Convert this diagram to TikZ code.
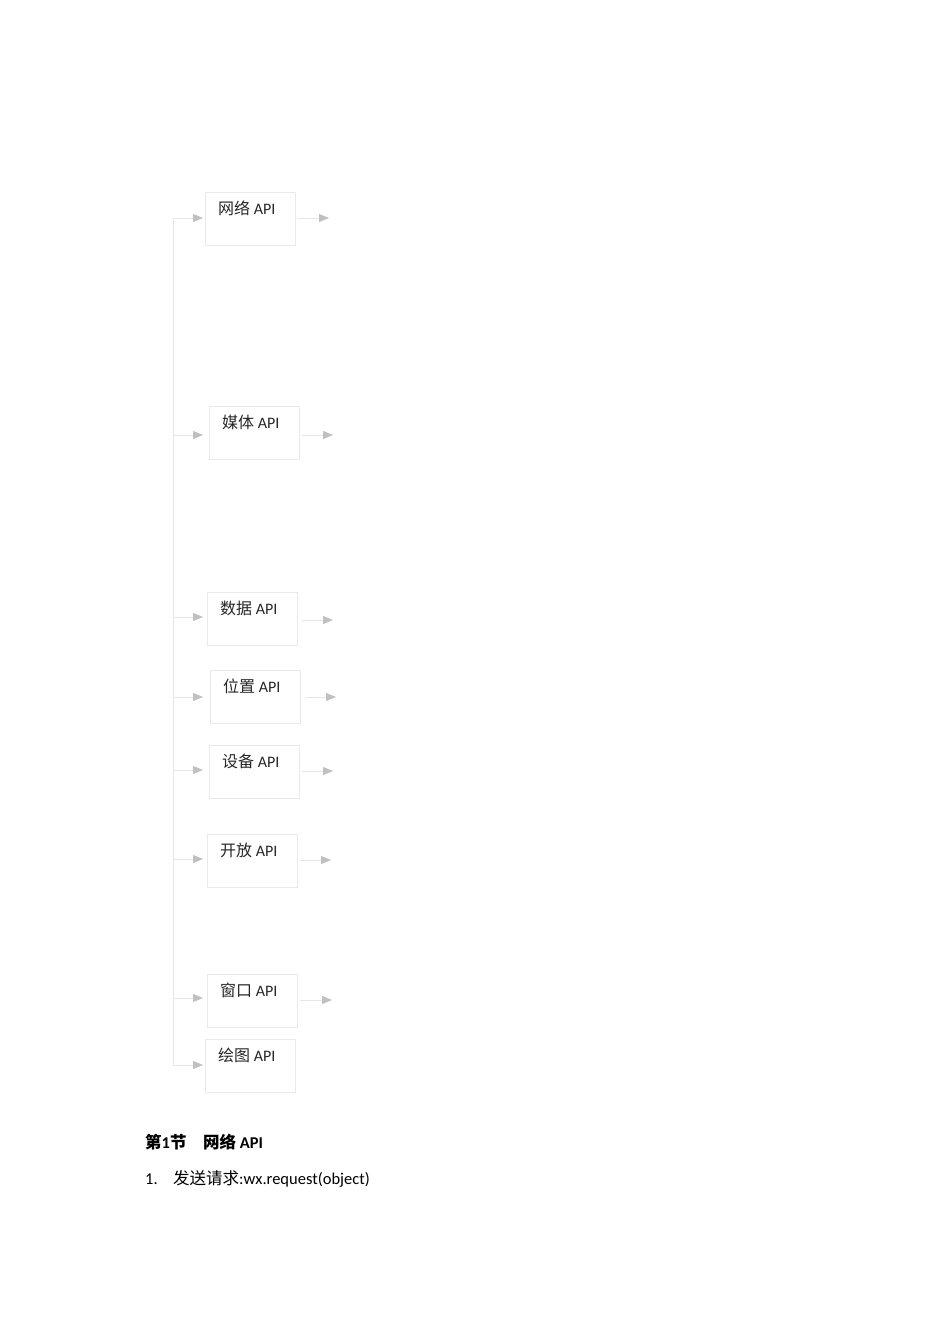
\documentclass[tikz,border=0pt]{standalone}
\usepackage{fontspec}
\setmainfont{Carlito}
\newfontfamily\cjk{Noto Sans CJK SC}
\usetikzlibrary{arrows.meta}
\definecolor{boxline}{HTML}{EAEAEA}
\definecolor{conn}{HTML}{E6E6E6}
\definecolor{tipgray}{HTML}{C0C0C0}
\begin{document}
\begin{tikzpicture}[x=1pt,y=-1pt,
  apibox/.style={draw=boxline, line width=0.8pt, minimum width=90pt, minimum height=53pt, inner sep=0pt, anchor=north west},
  lbl/.style={font=\fontsize{16}{18}\selectfont, text=black!85, inner sep=0pt, anchor=base west},
  link/.style={draw=conn, line width=0.8pt, -{Triangle[length=10pt,width=8pt,fill=tipgray,color=tipgray]}},
  trunk/.style={draw=conn, line width=0.8pt},
  body/.style={anchor=base west, inner sep=0pt, font=\fontsize{16.5}{20}\selectfont}
]
\useasboundingbox (0,0) rectangle (950,1344);
% boxes
\node[apibox] (b1) at (205,192) {};
\node[apibox] (b2) at (209,406) {};
\node[apibox] (b3) at (207,592) {};
\node[apibox] (b4) at (210,670) {};
\node[apibox] (b5) at (209,745) {};
\node[apibox] (b6) at (207,834) {};
\node[apibox] (b7) at (207,974) {};
\node[apibox] (b8) at (205,1039) {};
% labels
\node[lbl] (t1) at (218,214) {{\cjk 网络} API};
\node[lbl] (t2) at (222,428) {{\cjk 媒体} API};
\node[lbl] (t3) at (220,614) {{\cjk 数据} API};
\node[lbl] (t4) at (223,692) {{\cjk 位置} API};
\node[lbl] (t5) at (222,767) {{\cjk 设备} API};
\node[lbl] (t6) at (220,856) {{\cjk 开放} API};
\node[lbl] (t7) at (220,996) {{\cjk 窗口} API};
\node[lbl] (t8) at (218,1061) {{\cjk 绘图} API};
% trunk coordinates
\coordinate (j1) at (173,218);
\coordinate (j2) at (173,435);
\coordinate (j3) at (173,617);
\coordinate (j4) at (173,697);
\coordinate (j5) at (173,770);
\coordinate (j6) at (173,859);
\coordinate (j7) at (173,998);
\coordinate (j8) at (173,1065);
\draw[trunk] (j1) -- (j8);
\draw[link] (j1) -- (203,218);
\draw[link] (j2) -- (203,435);
\draw[link] (j3) -- (203,617);
\draw[link] (j4) -- (203,697);
\draw[link] (j5) -- (203,770);
\draw[link] (j6) -- (203,859);
\draw[link] (j7) -- (203,998);
\draw[link] (j8) -- (203,1065);
% right stubs
\coordinate (e1) at (329,218);
\coordinate (e2) at (333,435);
\coordinate (e3) at (333,620);
\coordinate (e4) at (336,697);
\coordinate (e5) at (333,771);
\coordinate (e6) at (331,860);
\coordinate (e7) at (332,1000);
\draw[link] (298,218) -- (e1);
\draw[link] (302,435) -- (e2);
\draw[link] (302,620) -- (e3);
\draw[link] (305,697) -- (e4);
\draw[link] (302,771) -- (e5);
\draw[link] (300,860) -- (e6);
\draw[link] (300,1000) -- (e7);
% bottom text
\node[body, font=\fontsize{16.5}{20}\selectfont\bfseries] (h1) at (145,1148) {{\cjk\bfseries 第}1{\cjk\bfseries 节}};
\node[body, font=\fontsize{16.5}{20}\selectfont\bfseries] (h2) at (203,1148) {{\cjk\bfseries 网络} API};
\node[body] (n1) at (145,1184) {1.};
\node[body] (n2) at (173,1184) {{\cjk 发送请求}:wx.request(object)};
\end{tikzpicture}
\end{document}
